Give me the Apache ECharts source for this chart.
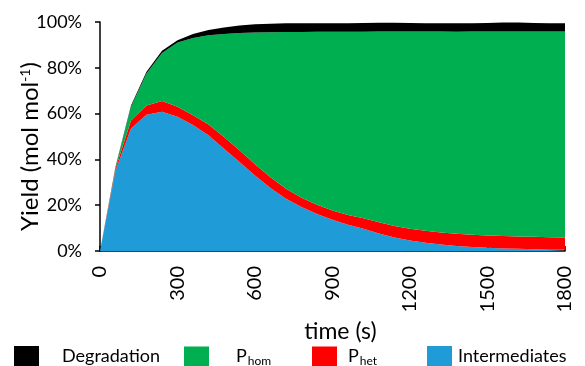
<!DOCTYPE html>
<html><head><meta charset="utf-8">
<script src="https://cdn.jsdelivr.net/npm/echarts@6/dist/echarts.min.js"></script>
<style>html,body{margin:0;padding:0;background:#fff}#c{width:585px;height:366px}</style>
</head><body><div id="c"></div>
<script>
var times = [0,60,120,180,240,300,360,420,480,540,600,660,720,780,840,900,960,1020,1080,1140,1200,1260,1320,1380,1440,1500,1560,1620,1680,1740,1800];
var intermediates = [0,35,53.5,59.5,60.8,58.6,55,50.5,44.7,38.9,33,27.5,22.8,19.2,16.2,13.6,11.5,9.7,7.6,5.9,4.6,3.6,2.8,2.2,1.7,1.4,1.1,1.0,0.8,0.6,0.5];
var pHet = [0,1.0,3.5,4.0,4.7,4.4,4.3,4.7,5.1,5.1,4.9,4.7,4.4,4.1,4.0,4.1,4.2,4.6,5.0,5.0,5.1,5.2,5.3,5.3,5.4,5.4,5.4,5.3,5.4,5.4,5.4];
var pHom = [0,0.5,6,14,21,28,33.7,39,45,51.2,57.5,63.3,68.4,72.3,75.5,78,80,81.4,83.2,84.9,86.1,87,87.7,88.2,88.7,89,89.3,89.5,89.6,89.8,89.9];
var degradation = [0,0.3,0.5,0.8,1.0,1.0,1.8,2.3,2.8,3.3,3.6,3.7,3.8,3.8,3.8,3.7,3.8,3.9,3.9,3.9,3.8,3.7,3.7,3.8,3.7,3.8,4.0,4.0,3.8,3.7,3.7];
var yTicks = [0,20,40,60,80,100];

var FONT = 'Lato';
var colors = {deg:'#000000', hom:'#00b050', het:'#ff0000', inter:'#1f9bd8'};

function areaSeries(name, vals, color){
  return {
    name: name, type: 'line', stack: 'total', data: vals,
    symbol: 'none', lineStyle: {width: 0}, areaStyle: {color: color, opacity: 1},
    itemStyle: {color: color}, silent: true, z: 2
  };
}
var legendRich = {
  p: {fontSize: 18, fontFamily: FONT, color: '#000', lineHeight: 22},
  sub: {fontSize: 12, fontFamily: FONT, color: '#000', lineHeight: 22, padding: [9,0,0,1]}
};
function legend(name, left, extra, fmt){
  return {
    data: [name], left: left, top: 346, icon: 'rect', itemWidth: 25, itemHeight: 20,
    selectedMode: false, formatter: fmt, padding: 0,
    textStyle: {fontSize: 18, fontFamily: FONT, color: '#000', padding: [0,0,0,extra], rich: legendRich}
  };
}

var chart = echarts.init(document.getElementById('c'), null, {renderer: 'canvas'});
chart.setOption({
  animation: false,
  backgroundColor: '#fff',
  grid: {left: 100, right: 20, top: 22, bottom: 115, containLabel: false, outerBoundsMode: 'none'},
  legend: [
    legend('Degradation', 14, 18, '{p|Degradation}'),
    legend('P_hom', 184, 22, '{p|P}{sub|hom}'),
    legend('P_het', 312, 6, '{p|P}{sub|het}'),
    legend('Intermediates', 427, 1, '{p|Intermediates}')
  ],
  xAxis: {
    type: 'category', data: times.map(String), boundaryGap: false,
    name: 'time (s)', nameLocation: 'middle', nameGap: 69, nameMoveOverlap: false,
    nameTextStyle: {fontSize: 23, fontFamily: FONT, color: '#000', padding: [0,0,0,16]},
    axisLine: {show: true, lineStyle: {color: '#000', width: 1.5}},
    axisTick: {show: true, inside: true, length: 5, interval: 4, lineStyle: {color: '#000', width: 1.5}},
    axisLabel: {rotate: 90, margin: 15, interval: 4, fontSize: 20, fontFamily: FONT, color: '#000'},
    splitLine: {show: false}
  },
  yAxis: {
    type: 'value', min: yTicks[0], max: yTicks[yTicks.length-1], interval: 20,
    name: 'Yield (mol mol{sup|-1})', nameLocation: 'middle', nameGap: 57, nameRotate: 90, nameMoveOverlap: false,
    nameTextStyle: {fontSize: 24, fontFamily: FONT, color: '#000', padding: [0,20,0,0],
      rich: {sup: {fontSize: 14, fontFamily: FONT, color: '#000', padding: [0,0,11,0]}}},
    axisLine: {show: true, lineStyle: {color: '#000', width: 1.5}},
    axisTick: {show: true, inside: false, length: 5, lineStyle: {color: '#000', width: 1.5}},
    axisLabel: {formatter: '{value}%', margin: 18, fontSize: 18, fontFamily: FONT, color: '#000'},
    splitLine: {show: false}
  },
  series: [
    areaSeries('Intermediates', intermediates, colors.inter),
    areaSeries('P_het', pHet, colors.het),
    areaSeries('P_hom', pHom, colors.hom),
    areaSeries('Degradation', degradation, colors.deg)
  ]
});
</script></body></html>
